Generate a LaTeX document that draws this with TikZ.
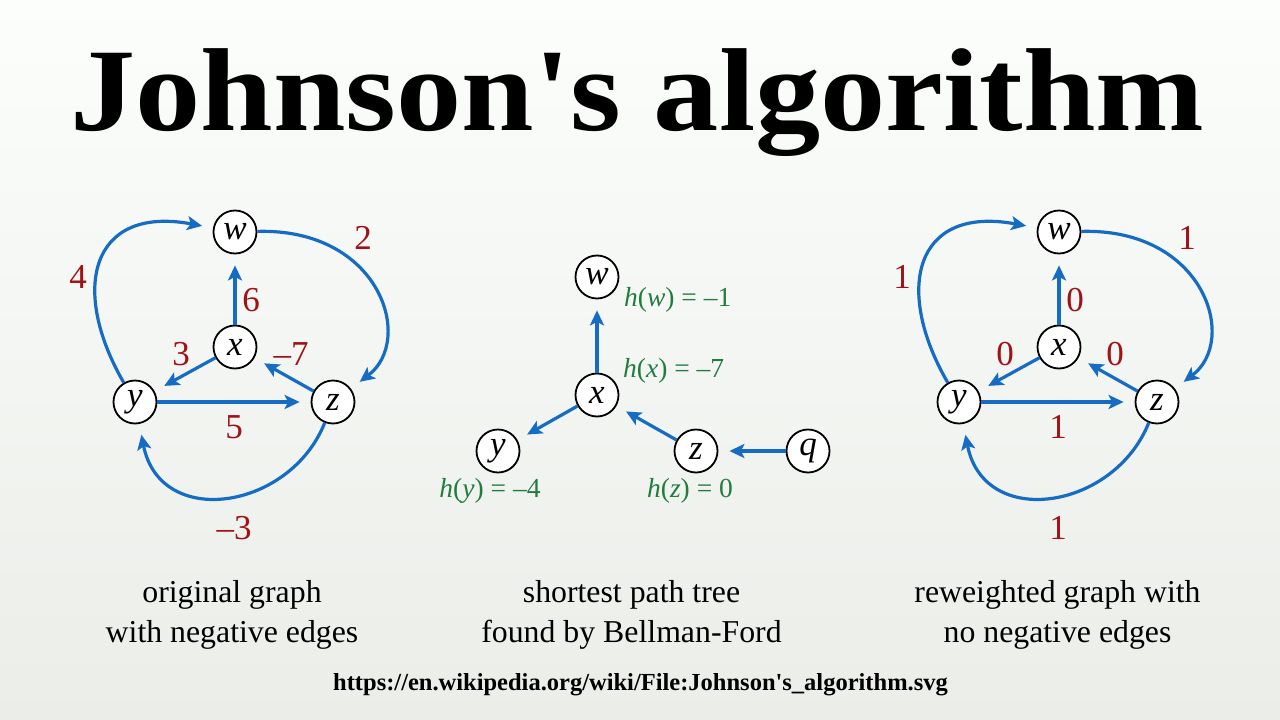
\documentclass[tikz,border=0pt]{standalone}
\usepackage{fontspec}
\setmainfont{Liberation Serif}[Ligatures=TeXOff]
\usetikzlibrary{arrows.meta}
\definecolor{edgeblue}{RGB}{22,108,196}
\definecolor{wred}{RGB}{160,18,22}
\definecolor{hgreen}{RGB}{34,124,64}
\definecolor{bgtop}{RGB}{252,254,252}
\definecolor{bgbot}{RGB}{234,237,232}
\tikzset{
  vert/.style={circle, draw=black, line width=1.8pt, fill=white, minimum size=43pt,
    inner sep=0pt, font=\fontsize{35}{35}\selectfont\itshape},
  link/.style={draw=edgeblue, line width=3.2pt,
    -{Stealth[length=15pt,width=14pt,inset=3.5pt]}, shorten >=11pt},
  wlabel/.style={text=wred, font=\fontsize{35}{35}\selectfont, inner sep=0pt},
  hlabel/.style={text=hgreen, font=\fontsize{27.5}{27.5}\selectfont, inner sep=0pt},
  capt/.style={font=\fontsize{31.8}{31.8}\selectfont, inner sep=0pt, anchor=base},
}
\newcommand\jgraph[8]{%
  \node[vert] (#1w) at (235,232) {w};
  \node[vert] (#1x) at (235,347) {x};
  \node[vert] (#1y) at (135,402) {y};
  \node[vert] (#1z) at (333,402) {z};
  \draw[link] (#1x) -- (#1w);
  \draw[link] (#1x) -- (#1y);
  \draw[link] (#1z) -- (#1x);
  \draw[link] (#1y) -- (#1z);
  \draw[link] (#1y) .. controls (70,290) and (90,205) .. (#1w);
  \draw[link] (#1w) .. controls (380,228) and (415,340) .. (#1z);
  \draw[link] (#1z) .. controls (290,510) and (160,530) .. (#1y);
  \node[wlabel] (#1ayw) at (78,277) {#2};
  \node[wlabel] (#1awz) at (363,238) {#3};
  \node[wlabel] (#1axw) at (251,300) {#4};
  \node[wlabel] (#1axy) at (181,354) {#5};
  \node[wlabel] (#1azx) at (291,354) {#6};
  \node[wlabel] (#1ayz) at (234,427) {#7};
  \node[wlabel] (#1azy) at (234,528) {#8};
}
\begin{document}
\begin{tikzpicture}[x=1pt,y=-1pt]
\useasboundingbox (0,0) rectangle (1280,720);
\fill[top color=bgtop, bottom color=bgbot] (0,0) rectangle (1280,720);

\node[inner sep=0pt, anchor=base, font=\fontsize{118}{118}\selectfont\bfseries]
  (title) at (637.5,130) {\scalebox{1.105}[1]{Johnson's algorithm}};

\jgraph{L}{4}{2}{6}{3}{–7}{5}{–3}
\begin{scope}[shift={(824,0)}]
\jgraph{R}{1}{1}{0}{0}{0}{1}{1}
\end{scope}

% middle tree
\node[vert] (mw) at (597,277) {w};
\node[vert] (mx) at (597,395) {x};
\node[vert] (my) at (498,451) {y};
\node[vert] (mz) at (696,451) {z};
\node[vert] (mq) at (808,451) {q};
\draw[link] (mx) -- (mw);
\draw[link] (mx) -- (my);
\draw[link] (mz) -- (mx);
\draw[link] (mq) -- (mz);
\node[hlabel, anchor=base west] (hw) at (624,306) {\textit{h}(\textit{w}) = –1};
\node[hlabel, anchor=base west] (hx) at (623,377) {\textit{h}(\textit{x}) = –7};
\node[hlabel, anchor=base] (hy) at (490,497) {\textit{h}(\textit{y}) = –4};
\node[hlabel, anchor=base] (hz) at (690,497) {\textit{h}(\textit{z}) = 0};

% captions
\node[capt] (c1a) at (232,602) {original graph};
\node[capt] (c1b) at (232,642) {with negative edges};
\node[capt] (c2a) at (631.5,602) {shortest path tree};
\node[capt] (c2b) at (631.5,642) {found by Bellman-Ford};
\node[capt] (c3a) at (1057.5,602) {reweighted graph with};
\node[capt] (c3b) at (1057.5,642) {no negative edges};

\node[inner sep=0pt, anchor=base, font=\fontsize{24.5}{24.5}\selectfont\bfseries]
  (url) at (640.5,690) {https://en.wikipedia.org/wiki/File:Johnson's\_algorithm.svg};
\end{tikzpicture}
\end{document}
